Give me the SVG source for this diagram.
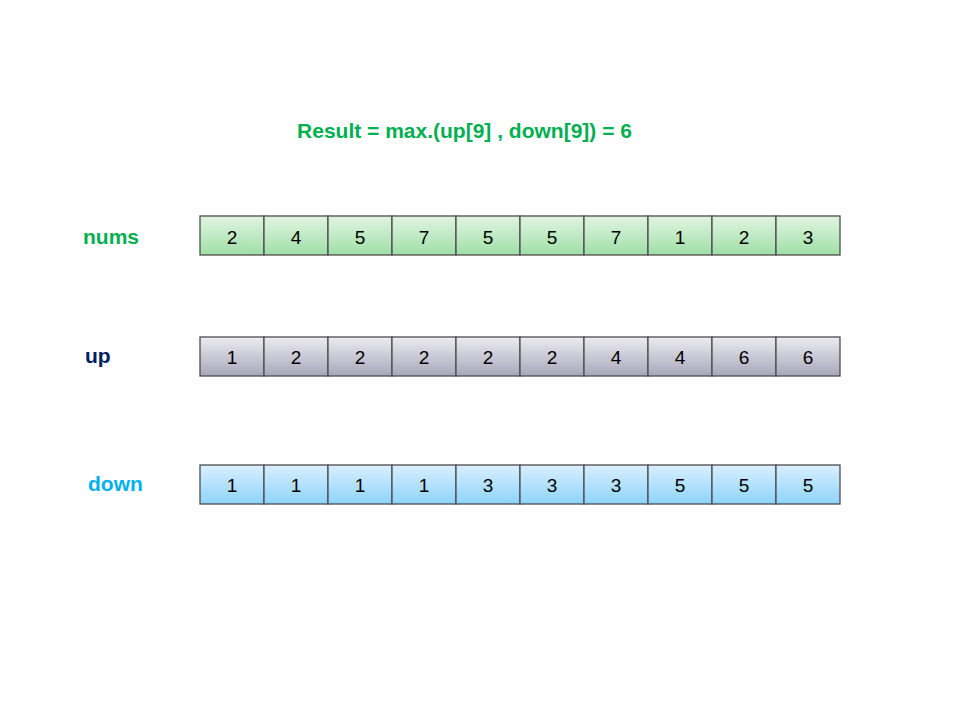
<svg xmlns="http://www.w3.org/2000/svg" width="960" height="720" viewBox="0 0 960 720">
<defs>
<linearGradient id="gN" x1="0" y1="0" x2="0" y2="1"><stop offset="0" stop-color="#e2f4e2"/><stop offset="1" stop-color="#9edfa6"/></linearGradient>
<linearGradient id="gU" x1="0" y1="0" x2="0" y2="1"><stop offset="0" stop-color="#ececf1"/><stop offset="1" stop-color="#a7a7bb"/></linearGradient>
<linearGradient id="gD" x1="0" y1="0" x2="0" y2="1"><stop offset="0" stop-color="#d9f0ff"/><stop offset="1" stop-color="#8ed3fa"/></linearGradient>
</defs>
<style>
.cell{stroke:#4d4d4d;stroke-width:1.3}
.v{font-family:"Liberation Sans",Arial,sans-serif;font-size:19px;fill:#000;text-anchor:middle}
.lbl{font-family:"Liberation Sans",Arial,sans-serif;font-weight:bold;font-size:21px}
</style>
<rect width="960" height="720" fill="#fff"/>
<g id="title"><text class="lbl" x="464.5" y="138" text-anchor="middle" fill="#00b050">Result = max.(up[9] , down[9]) = 6</text></g>
<g id="label-nums"><text class="lbl" x="83" y="244" fill="#00b050">nums</text></g>
<g id="label-up"><text class="lbl" x="85" y="363" fill="#002060">up</text></g>
<g id="label-down"><text class="lbl" x="88" y="491" fill="#00b0f0">down</text></g>
<g id="nums">
<rect class="cell" x="200" y="216" width="64" height="39" fill="url(#gN)"/><text class="v" x="232" y="244">2</text>
<rect class="cell" x="264" y="216" width="64" height="39" fill="url(#gN)"/><text class="v" x="296" y="244">4</text>
<rect class="cell" x="328" y="216" width="64" height="39" fill="url(#gN)"/><text class="v" x="360" y="244">5</text>
<rect class="cell" x="392" y="216" width="64" height="39" fill="url(#gN)"/><text class="v" x="424" y="244">7</text>
<rect class="cell" x="456" y="216" width="64" height="39" fill="url(#gN)"/><text class="v" x="488" y="244">5</text>
<rect class="cell" x="520" y="216" width="64" height="39" fill="url(#gN)"/><text class="v" x="552" y="244">5</text>
<rect class="cell" x="584" y="216" width="64" height="39" fill="url(#gN)"/><text class="v" x="616" y="244">7</text>
<rect class="cell" x="648" y="216" width="64" height="39" fill="url(#gN)"/><text class="v" x="680" y="244">1</text>
<rect class="cell" x="712" y="216" width="64" height="39" fill="url(#gN)"/><text class="v" x="744" y="244">2</text>
<rect class="cell" x="776" y="216" width="64" height="39" fill="url(#gN)"/><text class="v" x="808" y="244">3</text>
</g>
<g id="up">
<rect class="cell" x="200" y="337" width="64" height="39" fill="url(#gU)"/><text class="v" x="232" y="364">1</text>
<rect class="cell" x="264" y="337" width="64" height="39" fill="url(#gU)"/><text class="v" x="296" y="364">2</text>
<rect class="cell" x="328" y="337" width="64" height="39" fill="url(#gU)"/><text class="v" x="360" y="364">2</text>
<rect class="cell" x="392" y="337" width="64" height="39" fill="url(#gU)"/><text class="v" x="424" y="364">2</text>
<rect class="cell" x="456" y="337" width="64" height="39" fill="url(#gU)"/><text class="v" x="488" y="364">2</text>
<rect class="cell" x="520" y="337" width="64" height="39" fill="url(#gU)"/><text class="v" x="552" y="364">2</text>
<rect class="cell" x="584" y="337" width="64" height="39" fill="url(#gU)"/><text class="v" x="616" y="364">4</text>
<rect class="cell" x="648" y="337" width="64" height="39" fill="url(#gU)"/><text class="v" x="680" y="364">4</text>
<rect class="cell" x="712" y="337" width="64" height="39" fill="url(#gU)"/><text class="v" x="744" y="364">6</text>
<rect class="cell" x="776" y="337" width="64" height="39" fill="url(#gU)"/><text class="v" x="808" y="364">6</text>
</g>
<g id="down">
<rect class="cell" x="200" y="465" width="64" height="39" fill="url(#gD)"/><text class="v" x="232" y="492">1</text>
<rect class="cell" x="264" y="465" width="64" height="39" fill="url(#gD)"/><text class="v" x="296" y="492">1</text>
<rect class="cell" x="328" y="465" width="64" height="39" fill="url(#gD)"/><text class="v" x="360" y="492">1</text>
<rect class="cell" x="392" y="465" width="64" height="39" fill="url(#gD)"/><text class="v" x="424" y="492">1</text>
<rect class="cell" x="456" y="465" width="64" height="39" fill="url(#gD)"/><text class="v" x="488" y="492">3</text>
<rect class="cell" x="520" y="465" width="64" height="39" fill="url(#gD)"/><text class="v" x="552" y="492">3</text>
<rect class="cell" x="584" y="465" width="64" height="39" fill="url(#gD)"/><text class="v" x="616" y="492">3</text>
<rect class="cell" x="648" y="465" width="64" height="39" fill="url(#gD)"/><text class="v" x="680" y="492">5</text>
<rect class="cell" x="712" y="465" width="64" height="39" fill="url(#gD)"/><text class="v" x="744" y="492">5</text>
<rect class="cell" x="776" y="465" width="64" height="39" fill="url(#gD)"/><text class="v" x="808" y="492">5</text>
</g>
<g id="connectors"></g>
</svg>
